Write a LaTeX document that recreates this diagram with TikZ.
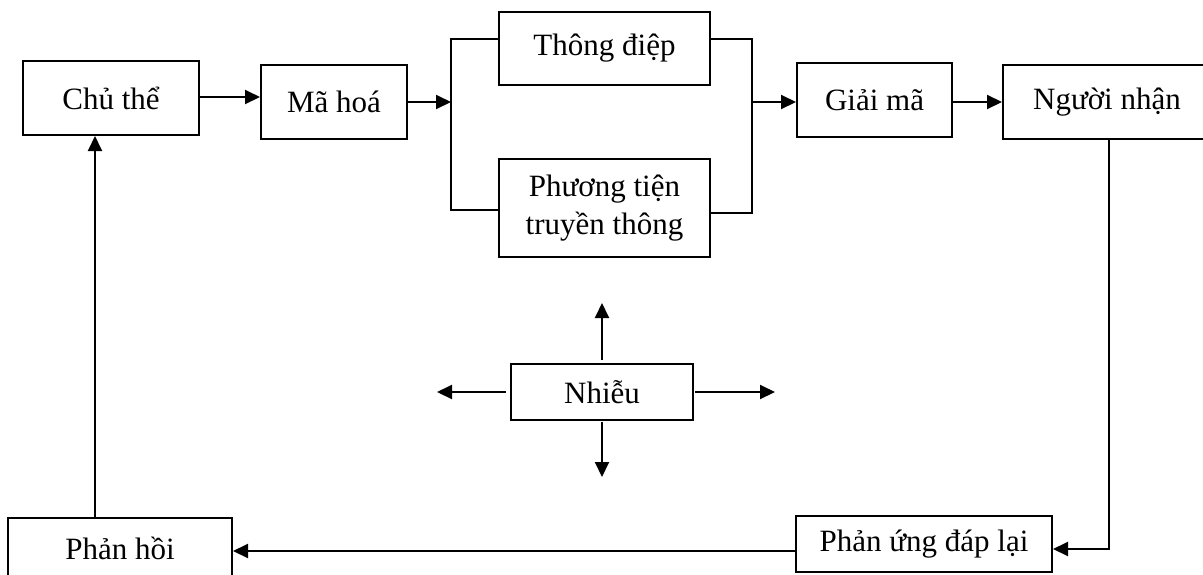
\documentclass[tikz,border=0pt]{standalone}
\usepackage{fontspec}
\setmainfont{Liberation Serif}
\usetikzlibrary{arrows.meta}
\begin{document}
\begin{tikzpicture}[x=1pt,y=-1pt,
  box/.style={draw,line width=2pt,inner sep=0pt,align=center,font=\fontsize{31}{38}\selectfont},
  ln/.style={line width=2pt},
  arr/.style={line width=2pt,-{Triangle[length=15pt,width=14pt]}}]
\useasboundingbox (0,0) rectangle (1203,574);
% boxes
\node[box,minimum width=176pt,minimum height=74pt] (ct) at (111,98) {Chủ thể};
\node[box,minimum width=146pt,minimum height=74pt] (mh) at (334,102) {Mã hoá};
\node[box,minimum width=211pt,minimum height=73pt] (td) at (604.5,48.5) {Thông điệp};
\node[box,minimum width=211pt,minimum height=98pt] (pt) at (604.5,208) {Phương tiện\\truyền thông};
\node[box,minimum width=155pt,minimum height=74pt] (gm) at (874.5,100) {Giải mã};
\node[box,minimum width=208pt,minimum height=74pt] (nn) at (1107,102) {Người nhận};
\node[box,minimum width=182pt,minimum height=56pt] (nh) at (602,392) {Nhiễu};
\node[box,minimum width=224pt,minimum height=60pt] (ph) at (120,548) {Phản hồi};
\node[box,minimum width=256pt,minimum height=56pt] (pu) at (924,544) {Phản ứng đáp lại};
% branch coordinates
\coordinate (bl) at (451,102);
\coordinate (blt) at (451,39);
\coordinate (blb) at (451,210);
\coordinate (brt) at (752,39);
\coordinate (brb) at (752,213);
\coordinate (br) at (752,102);
\coordinate (nnd) at (1109,139);
\coordinate (fb) at (95,518);
% connectors
\draw[arr] (ct.east |- 0,97) -- (mh.west |- 0,97);
\draw[arr] (mh.east) -- (bl);
\draw[ln] (blt -| td.west) -- (blt) -- (blb) -- (blb -| pt.west);
\draw[ln] (brt -| td.east) -- (brt) -- (brb) -- (brb -| pt.east);
\draw[arr] (br) -- (br -| gm.west);
\draw[arr] (gm.east |- 0,102) -- (nn.west |- 0,102);
\draw[arr] (nnd) |- (pu.east |- 0,549);
\draw[arr] (pu.west |- 0,551) -- (ph.east |- 0,551);
\draw[arr] (fb) -- (fb |- ct.south);
% noise arrows
\draw[arr,shorten <=3pt] (nh.north) -- ++(0,-60);
\draw[arr,shorten <=1pt] (nh.south) -- ++(0,56);
\draw[arr,shorten <=4pt] (nh.west) -- ++(-73,0);
\draw[arr,shorten <=1pt] (nh.east) -- ++(81,0);
\end{tikzpicture}
\end{document}
